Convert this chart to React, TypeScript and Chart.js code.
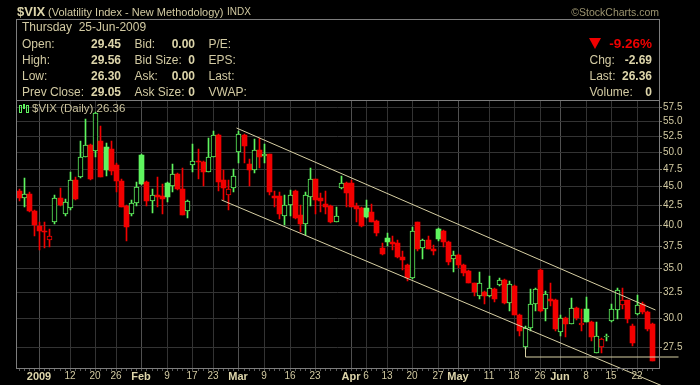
import React, { useEffect, useRef } from "react";
import { Chart, registerables } from "chart.js";

Chart.register(...registerables);

// ---------------- DATA ----------------
const dates = [
  "Dec 26", "Dec 29", "Dec 30", "Dec 31",
  "Jan 2", "Jan 5", "Jan 6", "Jan 7", "Jan 8", "Jan 9",
  "Jan 12", "Jan 13", "Jan 14", "Jan 15", "Jan 16",
  "Jan 20", "Jan 21", "Jan 22", "Jan 23",
  "Jan 26", "Jan 27", "Jan 28", "Jan 29", "Jan 30",
  "Feb 2", "Feb 3", "Feb 4", "Feb 5", "Feb 6",
  "Feb 9", "Feb 10", "Feb 11", "Feb 12", "Feb 13",
  "Feb 17", "Feb 18", "Feb 19", "Feb 20",
  "Feb 23", "Feb 24", "Feb 25", "Feb 26", "Feb 27",
  "Mar 2", "Mar 3", "Mar 4", "Mar 5", "Mar 6",
  "Mar 9", "Mar 10", "Mar 11", "Mar 12", "Mar 13",
  "Mar 16", "Mar 17", "Mar 18", "Mar 19", "Mar 20",
  "Mar 23", "Mar 24", "Mar 25", "Mar 26", "Mar 27",
  "Mar 30", "Mar 31",
  "Apr 1", "Apr 2", "Apr 3",
  "Apr 6", "Apr 7", "Apr 8", "Apr 9",
  "Apr 13", "Apr 14", "Apr 15", "Apr 16", "Apr 17",
  "Apr 20", "Apr 21", "Apr 22", "Apr 23", "Apr 24",
  "Apr 27", "Apr 28", "Apr 29", "Apr 30",
  "May 1",
  "May 4", "May 5", "May 6", "May 7", "May 8",
  "May 11", "May 12", "May 13", "May 14", "May 15",
  "May 18", "May 19", "May 20", "May 21", "May 22",
  "May 26", "May 27", "May 28", "May 29",
  "Jun 1", "Jun 2", "Jun 3", "Jun 4", "Jun 5",
  "Jun 8", "Jun 9", "Jun 10", "Jun 11", "Jun 12",
  "Jun 15", "Jun 16", "Jun 17", "Jun 18", "Jun 19",
  "Jun 22", "Jun 23", "Jun 24", "Jun 25",
];

const opens = [
  44.4, 43.4, 44.0, 41.7,
  39.8, 39.3, 38.2, 40.3, 43.5, 41.3,
  42.1, 45.9, 46.3, 49.3, 51.1,
  50.2, 51.8, 50.8, 50.5,
  48.1, 45.8, 42.4, 41.4, 42.75,
  49.6, 45.6, 43.1, 43.9, 43.7,
  45.5, 45.1, 46.8, 44.6, 41.7,
  48.1, 48.7, 48.5, 47.1,
  49.3, 52.7, 45.9, 43.9, 44.8,
  50.1, 52.7, 48.2, 47.4, 50.3,
  49.4, 49.75, 43.7, 43.7, 41.1,
  42.5, 44.4, 41.2, 40.1, 43.6,
  46.06, 43.4, 42.6, 42.4, 40.4,
  44.8, 45.5,
  45.5, 42.4, 42.1,
  42.1, 41.6, 40.5, 37.3,
  38.4, 37.96, 37.8, 36.2, 35.4,
  34.0, 40.3, 37.2, 38.2, 37.1,
  39.5, 39.3, 37.95, 36.05,
  36.5,
  35.4, 34.7, 33.45, 32.1, 32.5,
  32.1, 32.8, 33.2, 33.8, 31.45,
  33.1, 30.35, 27.5, 29.1, 31.35,
  34.85, 30.9, 31.8, 31.77,
  28.75, 30.05, 29.5, 31.0, 29.4,
  30.9, 29.7, 27.0, 27.5, 28.3,
  29.75, 30.8, 31.3, 31.7, 29.3,
  30.4, 31.4, 30.6, 29.45,
];

const highs = [
  44.6, 46.2, 44.3, 41.8,
  40.4, 40.3, 39.5, 43.9, 44.8, 43.3,
  47.0, 46.3, 51.7, 55.4, 51.2,
  56.5, 54.2, 51.4, 51.8,
  48.3, 46.0, 42.5, 43.2, 45.6,
  49.7, 45.7, 44.6, 46.3, 45.3,
  45.6, 48.2, 46.9, 47.7, 43.2,
  51.3, 50.5, 48.6, 52.3,
  53.4, 52.8, 47.35, 45.9, 47.5,
  53.4, 52.8, 49.0, 52.0, 52.2,
  51.2, 49.8, 44.4, 44.3, 43.85,
  44.5, 44.5, 42.5, 44.2, 47.7,
  46.1, 44.1, 44.4, 42.5, 42.3,
  46.5, 45.6,
  45.9, 42.8, 42.2,
  43.2, 42.7, 40.6, 37.8,
  38.95, 38.6, 38.2, 36.85, 35.5,
  39.7, 40.35, 38.3, 38.65, 37.6,
  39.6, 39.4, 38.0, 36.85,
  36.6,
  35.5, 34.8, 33.5, 34.6, 32.6,
  34.2, 32.9, 34.0, 33.9, 33.7,
  33.2, 30.4, 29.3, 32.8, 32.9,
  34.9, 32.6, 33.5, 31.8,
  30.3, 30.1, 31.95, 31.05, 30.9,
  32.0, 29.75, 29.7, 28.25, 28.6,
  31.35, 32.9, 32.9, 31.75, 29.5,
  32.2, 31.6, 30.65, 29.56,
];

const lows = [
  43.0, 42.3, 41.6, 38.6,
  37.0, 37.2, 37.4, 40.1, 42.4, 41.1,
  41.9, 43.2, 46.2, 49.2, 45.9,
  49.3, 46.3, 46.5, 46.6,
  44.2, 42.2, 38.1, 41.1, 42.4,
  45.2, 42.4, 41.5, 42.3, 41.3,
  42.9, 44.3, 44.5, 41.2, 40.8,
  47.0, 46.1, 45.1, 47.0,
  49.2, 44.4, 43.2, 41.9, 44.3,
  48.4, 48.4, 45.1, 46.9, 47.6,
  48.3, 43.9, 42.2, 40.7, 40.0,
  41.1, 40.7, 39.1, 38.8, 42.4,
  41.3, 41.6, 41.3, 40.2, 40.4,
  44.7, 42.3,
  42.2, 40.3, 39.7,
  40.8, 40.3, 38.7, 36.5,
  37.5, 37.0, 36.15, 34.85, 33.7,
  33.9, 36.9, 36.05, 37.1, 36.4,
  38.0, 37.4, 35.4, 34.6,
  35.0,
  34.2, 33.4, 32.1, 31.8, 31.4,
  32.0, 31.6, 33.1, 31.4, 30.7,
  30.3, 28.4, 27.3, 28.9, 30.7,
  30.6, 29.8, 31.2, 28.9,
  28.4, 28.3, 29.45, 29.85, 28.9,
  29.65, 27.95, 26.95, 26.95, 28.0,
  29.7, 29.98, 30.9, 29.6, 27.6,
  30.35, 30.4, 28.9, 26.3,
];

const closes = [
  43.5, 44.0, 41.7, 40.0,
  39.2, 39.1, 38.6, 43.5, 42.5, 42.9,
  45.9, 43.3, 49.3, 51.1, 46.1,
  56.4, 46.4, 47.4, 47.2,
  45.7, 42.3, 39.7, 42.75, 44.9,
  45.4, 43.1, 43.9, 43.6, 43.3,
  43.6, 46.8, 44.6, 41.25, 43.1,
  48.6, 48.5, 47.1, 49.3,
  52.7, 45.6, 44.8, 44.7, 46.5,
  52.8, 51.0, 47.4, 50.35, 49.3,
  49.75, 44.3, 43.4, 41.3, 42.5,
  43.8, 40.9, 40.1, 43.85, 46.06,
  43.2, 43.0, 42.3, 40.3, 41.1,
  45.5, 44.1,
  42.3, 42.0, 39.8,
  41.0, 40.4, 39.0, 36.55,
  37.9, 37.7, 36.2, 35.9, 33.96,
  39.3, 37.1, 38.2, 37.15, 36.9,
  38.3, 37.9, 35.7, 36.5,
  35.3,
  34.5, 33.45, 32.5, 33.5, 32.1,
  32.95, 31.8, 33.8, 31.45, 33.3,
  30.35, 28.9, 29.1, 31.35, 32.8,
  30.65, 32.3, 31.65, 29.0,
  30.0, 29.5, 31.0, 30.05, 29.6,
  29.7, 28.3, 28.4, 28.2, 28.35,
  30.9, 32.75, 31.7, 29.95, 27.85,
  31.3, 30.6, 29.05, 26.36,
];

const priorClose = 44.2; // close of the session before the first bar

const xTickIndex = [4, 10, 15, 19, 24, 29, 34, 38, 43, 48, 53, 58, 65, 68, 72, 77, 82, 86, 92, 97, 102, 106, 111, 116, 121];
const xTickLabels = ["2009", "12", "20", "26", "Feb", "9", "17", "23", "Mar", "9", "16", "23", "Apr", "6", "13", "20", "27", "May", "11", "18", "26", "Jun", "8", "15", "22"];
const monthTicks = [4, 24, 43, 65, 86, 106];
const yTicks = [27.5, 30, 32.5, 35, 37.5, 40, 42.5, 45, 47.5, 50, 52.5, 55, 57.5];

// trend / support lines (bar index, price)
const upperTrend = [[42.6, 53.9], [124.6, 30.83]];
const lowerTrend = [[39.6, 43.13], [125.9, 24.41]];
const supportLine = [[99, 27.5], [99, 26.62], [128.96, 26.62]];

// ---------------- STYLE ----------------
const FONT = '"Liberation Sans", Arial, sans-serif';
const GREEN = "#5ff55f";
const RED = "#f20000";
const BEIGE = "#d2caa2";
const BEIGE_B = "#ddd5aa";
const GRID = "#333333";
const GRID_M = "#505050";
const FRAME = "#7d7d7d";
const LINE = "#d8d0a4";

const colorAt = (i: number) => {
  const prev = i === 0 ? priorClose : closes[i - 1];
  return closes[i] >= prev ? GREEN : RED;
};
const hollowAt = (i: number) => closes[i] > opens[i];

function buildConfig(): any {
  const idx = opens.map((_, i) => i);
  const colors = idx.map(colorAt);

  const pixelShift = {
    id: "pixelShift",
    beforeDatasetsDraw(chart: any) {
      chart.ctx.save();
      chart.ctx.translate(0.5, 0);
    },
    afterDatasetsDraw(chart: any) {
      chart.ctx.restore();
    },
  };

  const frame = {
    id: "frame",
    afterDraw(chart: any) {
      const { ctx, chartArea } = chart;
      const xs = chart.scales.x;
      ctx.save();
      ctx.strokeStyle = FRAME;
      ctx.lineWidth = 1;
      const l = chartArea.left + 0.5;
      const r = chartArea.right + 0.5;
      const b = chartArea.bottom + 0.5;
      ctx.strokeRect(l, 19.5, r - l, b - 19.5);
      ctx.beginPath();
      ctx.moveTo(l, chartArea.top + 0.5);
      ctx.lineTo(r, chartArea.top + 0.5);
      ctx.stroke();
      // daily tick marks under the plot
      ctx.strokeStyle = "#5a5a5a";
      ctx.beginPath();
      idx.forEach((i) => {
        const x = Math.round(xs.getPixelForValue(i)) + 0.5;
        ctx.moveTo(x, chartArea.bottom + 1);
        ctx.lineTo(x, chartArea.bottom + 3);
      });
      ctx.stroke();
      ctx.restore();
    },
  };

  const lineDs = (pts: number[][]) => ({
    type: "line",
    data: pts.map(([x, y]) => ({ x, y })),
    borderColor: LINE,
    borderWidth: 1,
    pointRadius: 0,
    fill: false,
    clip: false,
    order: -1,
    tension: 0,
  });

  return {
    type: "bar",
    data: {
      labels: dates,
      datasets: [
        {
          type: "bar",
          label: "body",
          data: idx.map((i) => ({ x: i, y: [opens[i], closes[i]] })),
          backgroundColor: idx.map((i) => (hollowAt(i) ? "#000000" : colors[i])),
          borderColor: colors,
          borderWidth: idx.map((i) => (hollowAt(i) ? 1 : 0)),
          borderSkipped: false,
          barThickness: 5,
          minBarLength: 1,
          grouped: false,
          order: 0,
        },
        {
          type: "bar",
          label: "wick",
          data: idx.map((i) => ({ x: i, y: [lows[i], highs[i]] })),
          backgroundColor: colors,
          borderWidth: 0,
          barThickness: 1,
          minBarLength: 1,
          grouped: false,
          order: 1,
        },
        lineDs(upperTrend),
        lineDs(lowerTrend),
        lineDs(supportLine),
      ],
    },
    options: {
      responsive: false,
      animation: false,
      devicePixelRatio: 1,
      events: [],
      layout: { padding: { left: 16, top: 100, right: 0, bottom: 0 }, autoPadding: false },
      plugins: { legend: { display: false }, tooltip: { enabled: false } },
      scales: {
        x: {
          type: "linear",
          min: -0.53,
          max: 125.3,
          bounds: "data",
          offset: false,
          alignToPixels: true,
          border: { display: false },
          grid: {
            offset: false,
            drawTicks: false,
            color: (c: any) => (c.tick && monthTicks.includes(c.tick.value) ? GRID_M : GRID),
          },
          afterBuildTicks: (s: any) => {
            s.ticks = xTickIndex.map((v) => ({ value: v }));
          },
          afterFit: (s: any) => {
            s.height = 17;
          },
          ticks: {
            autoSkip: false,
            maxRotation: 0,
            padding: 2,
            color: (c: any) => (c.tick && monthTicks.includes(c.tick.value) ? BEIGE_B : BEIGE),
            font: (c: any) =>
              c.tick && monthTicks.includes(c.tick.value)
                ? { family: FONT, size: 11, weight: "bold" }
                : { family: FONT, size: 10, weight: "normal" },
            callback: (v: any) => {
              const k = xTickIndex.indexOf(Number(v));
              return k >= 0 ? xTickLabels[k] : "";
            },
          },
        },
        y: {
          type: "logarithmic",
          position: "right",
          min: 25.76,
          max: 58.7,
          bounds: "data",
          alignToPixels: true,
          border: { display: false },
          grid: { color: GRID, tickLength: 3, tickColor: "#8c8872", drawTicks: true },
          afterBuildTicks: (s: any) => {
            s.ticks = yTicks.map((v) => ({ value: v }));
          },
          afterFit: (s: any) => {
            s.width = 41;
          },
          ticks: {
            padding: 1,
            color: BEIGE,
            font: { family: FONT, size: 10 },
            callback: (v: any) => Number(v).toFixed(1),
          },
        },
      },
    },
    plugins: [pixelShift, frame],
  };
}

// ---------------- HEADER HELPERS ----------------
type TProps = {
  x?: number;
  rx?: number;
  cy: number;
  size?: number;
  bold?: boolean;
  color?: string;
  children: React.ReactNode;
};

function T({ x, rx, cy, size = 12, bold = false, color = BEIGE, children }: TProps) {
  const lh = 14;
  const style: React.CSSProperties = {
    position: "absolute",
    top: cy - lh / 2,
    lineHeight: lh + "px",
    fontFamily: FONT,
    fontSize: size,
    fontWeight: bold ? "bold" : "normal",
    color,
    whiteSpace: "pre",
  };
  if (rx !== undefined) {
    style.right = 700 - rx;
    style.textAlign = "right";
  } else {
    style.left = x;
  }
  return <div style={style}>{children}</div>;
}

const leftRows = [
  { label: "Open:", val: "29.45", l2: "Bid:", v2: "0.00", l3: "P/E:" },
  { label: "High:", val: "29.56", l2: "Bid Size:", v2: "0", l3: "EPS:" },
  { label: "Low:", val: "26.30", l2: "Ask:", v2: "0.00", l3: "Last:" },
  { label: "Prev Close:", val: "29.05", l2: "Ask Size:", v2: "0", l3: "VWAP:" },
];
const rightRows = [
  { label: "Chg:", val: "-2.69" },
  { label: "Last:", val: "26.36" },
  { label: "Volume:", val: "0" },
];
const rowY = [43.5, 59.5, 75.5, 91.5];

export default function App() {
  const ref = useRef<HTMLCanvasElement>(null);

  useEffect(() => {
    if (!ref.current) return;
    const chart = new Chart(ref.current, buildConfig());
    return () => chart.destroy();
  }, []);

  return (
    <div
      style={{
        position: "absolute",
        left: 0,
        top: 0,
        width: 700,
        height: 385,
        background: "#000",
        overflow: "hidden",
      }}
    >
      <canvas
        ref={ref}
        width={700}
        height={385}
        style={{ position: "absolute", left: 0, top: 0, width: 700, height: 385 }}
      />

      {/* title line */}
      <T x={17} cy={11.5} size={13} bold color={BEIGE_B}>$VIX</T>
      <T x={48} cy={11.5} size={11}>(Volatility Index - New Methodology)</T>
      <T x={227} cy={11.5} size={10}>INDX</T>
      <T rx={659} cy={11.5} size={10.5} color="#9c9470">©StockCharts.com</T>

      {/* info box */}
      <T x={22} cy={27} size={12}>{"Thursday  25-Jun-2009"}</T>
      {leftRows.map((r, i) => (
        <React.Fragment key={r.label}>
          <T x={22} cy={rowY[i]}>{r.label}</T>
          <T rx={121} cy={rowY[i]} bold color={BEIGE_B}>{r.val}</T>
          <T x={134.5} cy={rowY[i]}>{r.l2}</T>
          <T rx={195} cy={rowY[i]} bold color={BEIGE_B}>{r.v2}</T>
          <T x={208.5} cy={rowY[i]}>{r.l3}</T>
        </React.Fragment>
      ))}

      <div
        style={{
          position: "absolute",
          left: 589,
          top: 38,
          width: 0,
          height: 0,
          borderLeft: "6.5px solid transparent",
          borderRight: "6.5px solid transparent",
          borderTop: "11.5px solid #f00000",
        }}
      />
      <T rx={652} cy={43.5} size={13.5} bold color="#f00000">-9.26%</T>
      {rightRows.map((r, i) => (
        <React.Fragment key={r.label}>
          <T x={589.5} cy={rowY[i + 1]}>{r.label}</T>
          <T rx={652} cy={rowY[i + 1]} bold color={BEIGE_B}>{r.val}</T>
        </React.Fragment>
      ))}

      {/* series label inside plot */}
      <div style={{ position: "absolute", left: 19, top: 104, width: 10, height: 8 }}>
        <div style={{ position: "absolute", left: 0, top: 1, width: 1, height: 6, border: "1px solid " + GREEN }} />
        <div style={{ position: "absolute", left: 4, top: 0, width: 2, height: 5, background: GREEN }} />
        <div style={{ position: "absolute", left: 7, top: 1, width: 1, height: 6, border: "1px solid " + GREEN }} />
      </div>
      <T x={32} cy={107.7} size={11.5} color="#cbc39d">$VIX (Daily) 26.36</T>
    </div>
  );
}
